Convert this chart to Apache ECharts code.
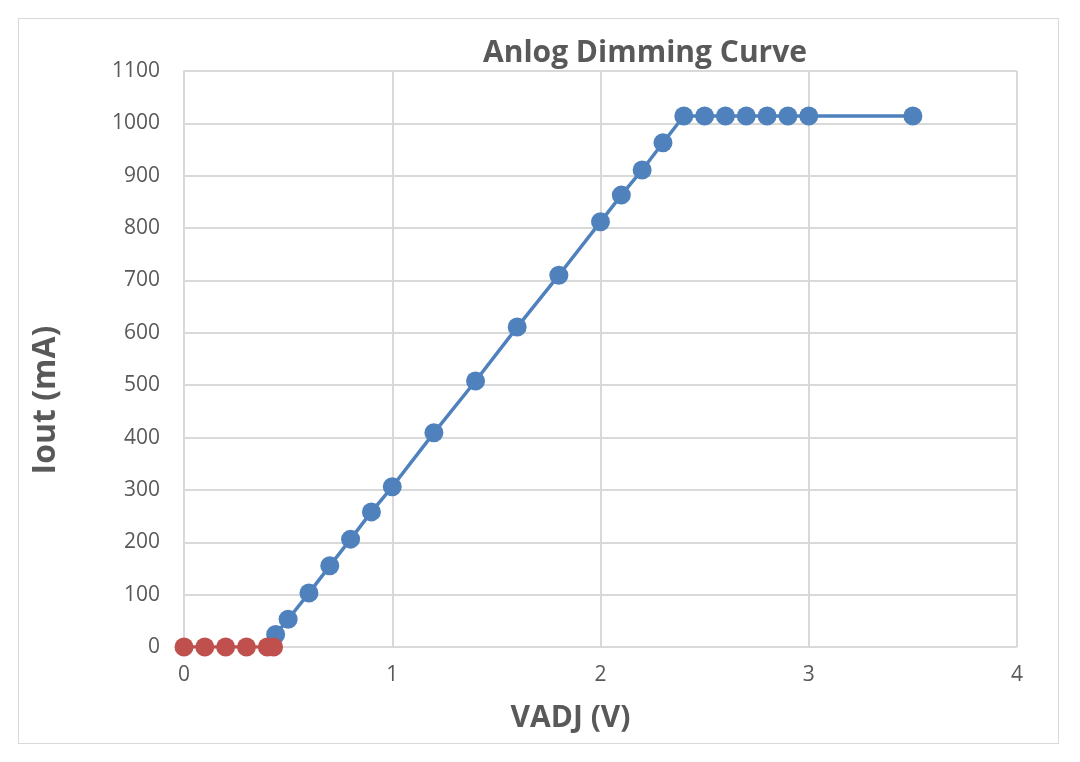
<!DOCTYPE html>
<html>
<head>
<meta charset="utf-8">
<script src="https://cdn.jsdelivr.net/npm/echarts@6/dist/echarts.min.js"></script>
<style>
  html, body { margin: 0; padding: 0; background: #fff; }
  #frame {
    position: absolute; left: 18px; top: 18px;
    width: 1041px; height: 726px;
    border: 1px solid #d9d9d9; box-sizing: border-box;
  }
  #chart { position: absolute; left: 0; top: 0; width: 1080px; height: 762px; }
</style>
</head>
<body>
<div id="frame"></div>
<div id="chart"></div>
<script>
// 数据：VADJ (V) 与 Iout (mA)
const vadjOff = [0, 0.1, 0.2, 0.3, 0.4, 0.43];
const ioutOff = [0, 0, 0, 0, 0, 0];

const vadjOn = [0.44, 0.5, 0.6, 0.7, 0.8, 0.9, 1.0, 1.2, 1.4, 1.6, 1.8, 2.0, 2.1, 2.2, 2.3, 2.4, 2.5, 2.6, 2.7, 2.8, 2.9, 3.0, 3.5];
const ioutOn = [24, 53, 103, 155, 206, 258, 306, 409, 508, 611, 710, 812, 863, 911, 963, 1014, 1014, 1014, 1014, 1014, 1014, 1014, 1014];

const pair = (xs, ys) => xs.map((x, i) => [x, ys[i]]);

let chart = echarts.init(document.getElementById('chart'));

const labelColor = '#595959';
const gridColor = '#d9d9d9';

let option = {
    animation: false,
    title: {
        text: 'Anlog Dimming Curve',
        left: 640,
        top: 33,
        textAlign: 'center',
        textStyle: {
            fontFamily: 'Open Sans',
            fontSize: 30,
            fontWeight: 'bold',
            color: labelColor
        }
    },
    grid: {
        left: 184,
        right: 63,
        top: 71,
        bottom: 115
    },
    xAxis: {
        type: 'value',
        min: 0,
        max: 4,
        interval: 1,
        name: 'VADJ (V)',
        nameLocation: 'middle',
        nameGap: 56,
        nameTextStyle: {
            fontFamily: 'Open Sans',
            fontSize: 30,
            fontWeight: 'bold',
            color: labelColor,
            padding: [0, 0, 0, -60]
        },
        axisLine: { show: false },
        axisTick: { show: false },
        axisLabel: {
            fontFamily: 'Open Sans',
            fontSize: 21,
            color: labelColor,
            margin: 18
        },
        splitLine: { lineStyle: { color: gridColor, width: 2 } }
    },
    yAxis: {
        type: 'value',
        min: 0,
        max: 1100,
        interval: 100,
        name: 'Iout (mA)',
        nameLocation: 'middle',
        nameGap: 122,
        nameTextStyle: {
            fontFamily: 'Open Sans',
            fontSize: 32,
            fontWeight: 'bold',
            color: labelColor,
            padding: [0, 82, 0, 0]
        },
        axisLine: { show: true, lineStyle: { color: gridColor, width: 2 } },
        axisTick: { show: false },
        axisLabel: {
            fontFamily: 'Open Sans',
            fontSize: 21,
            color: labelColor,
            margin: 24,
            formatter: v => String(v)
        },
        splitLine: { lineStyle: { color: gridColor, width: 2 } }
    },
    series: [
        {
            name: 'on',
            type: 'line',
            data: pair(vadjOn, ioutOn),
            symbol: 'circle',
            symbolSize: 19,
            itemStyle: { color: '#4f81bd' },
            lineStyle: { color: '#4f81bd', width: 3.5 },
            z: 2
        },
        {
            name: 'off',
            type: 'line',
            data: pair(vadjOff, ioutOff),
            symbol: 'circle',
            symbolSize: 19,
            itemStyle: { color: '#c0504d' },
            lineStyle: { color: '#c0504d', width: 3.5 },
            z: 3
        }
    ]
};

chart.setOption(option);
</script>
</body>
</html>
